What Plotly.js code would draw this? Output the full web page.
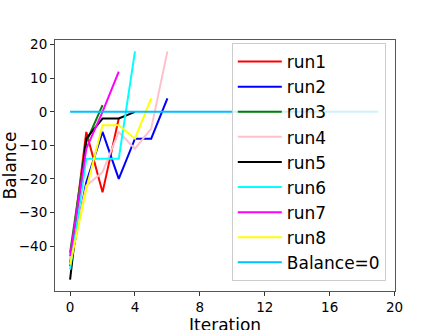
<!DOCTYPE html>
<html>
<head>
<meta charset="utf-8">
<script src="https://cdn.plot.ly/plotly-3.0.1.min.js"></script>
<style>
  html, body { margin: 0; padding: 0; background: #fff; }
  #chart { width: 440px; height: 330px; }
</style>
</head>
<body>
<div id="chart"></div>
<script>
// balance per iteration
var run1 = [-45, -6, -24, -2];
var run2 = [-46, -21, -6, -20, -8, -8, 4];
var run3 = [-42, -9, 2];
var run4 = [-44, -22, -18, -6, -11, -5, 18];
var run5 = [-50, -8, -2, -2, 0];
var run6 = [-47, -14, -14, -14, 18];
var run7 = [-43, -11, 0, 12];
var run8 = [-45.5, -23, -4, -4, -8, 4];
var zeroX = [0, 19];
var zeroY = [0, 0];

var runs = [run1, run2, run3, run4, run5, run6, run7, run8];
var names = ['run1', 'run2', 'run3', 'run4', 'run5', 'run6', 'run7', 'run8'];
var colors = ['red', 'blue', 'green', 'pink', 'black', 'cyan', 'magenta', 'yellow'];

var data = [];
for (var i = 0; i < runs.length; i++) {
  data.push({
    x: runs[i].map(function (v, k) { return k; }),
    y: runs[i],
    name: names[i],
    mode: 'lines',
    type: 'scatter',
    line: {color: colors[i], width: 2}
  });
}
data.push({
  x: zeroX,
  y: zeroY,
  name: 'Balance=0',
  mode: 'lines',
  type: 'scatter',
  line: {color: '#00bfff', width: 2}
});

var fontFam = 'DejaVu Sans, sans-serif';

var layout = {
  width: 440,
  height: 330,
  paper_bgcolor: '#fff',
  plot_bgcolor: '#fff',
  hovermode: false,
  margin: {l: 55, r: 45, t: 40, b: 39, pad: 0},
  font: {family: fontFam, color: '#000'},
  xaxis: {
    range: [-0.93, 20.03],
    tickvals: [0, 4, 8, 12, 16, 20],
    ticks: 'outside', ticklen: 4, tickcolor: '#333',
    showgrid: false, zeroline: false, automargin: false,
    showline: true, linecolor: '#555', linewidth: 1, mirror: true,
    tickfont: {size: 13.5, family: fontFam}
  },
  yaxis: {
    range: [-53.4, 21.4],
    tickvals: [20, 10, 0, -10, -20, -30, -40],
    ticks: 'outside', ticklen: 4, tickcolor: '#333',
    showgrid: false, zeroline: false, automargin: false,
    showline: true, linecolor: '#555', linewidth: 1, mirror: true,
    tickfont: {size: 13.5, family: fontFam},
    title: {text: 'Balance', font: {size: 17, family: fontFam}, standoff: 6}
  },
  // x title as annotation so it can sit a little lower, like the original
  annotations: [{
    text: 'Iteration', showarrow: false,
    xref: 'paper', yref: 'paper', x: 0.5, y: -0.135,
    xanchor: 'center', yanchor: 'middle',
    font: {size: 17, family: fontFam, color: '#000'}
  }],
  showlegend: true,
  legend: {
    x: 0.52, y: 0.988, xanchor: 'left', yanchor: 'top',
    bgcolor: 'rgba(255,255,255,0.8)',
    bordercolor: '#cccccc', borderwidth: 1,
    font: {size: 17, family: fontFam},
    itemwidth: 44
  }
};

Plotly.newPlot('chart', data, layout, {displayModeBar: false, staticPlot: true});
</script>
</body>
</html>
